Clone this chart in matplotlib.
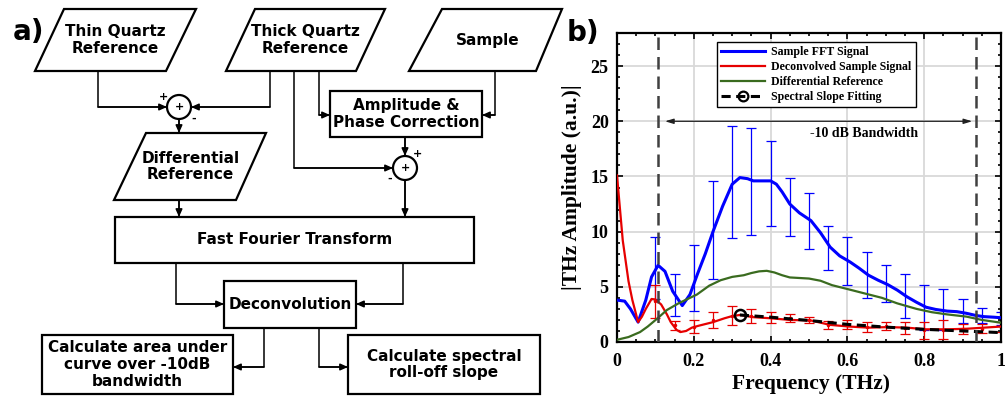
import matplotlib
matplotlib.use('Agg')
import numpy as np
import matplotlib.pyplot as plt
from matplotlib.patches import Polygon, Rectangle, Circle
from matplotlib.lines import Line2D
from matplotlib.ticker import MultipleLocator

# ---- panel b data ----
blue_x = [0, 0.02, 0.035, 0.055, 0.075, 0.09, 0.107, 0.125, 0.145, 0.17, 0.19, 0.21, 0.23,
          0.25, 0.275, 0.30, 0.32, 0.34, 0.355, 0.38, 0.40, 0.415, 0.43, 0.45, 0.475, 0.505,
          0.53, 0.555, 0.58, 0.607, 0.63, 0.655, 0.68, 0.705, 0.73, 0.755, 0.78, 0.805, 0.83,
          0.86, 0.885, 0.91, 0.935, 0.955, 0.98, 1.0]
blue_y = [3.8, 3.7, 3.0, 1.8, 3.8, 5.9, 6.95, 6.4, 4.6, 3.3, 4.3, 6.2, 8.0,
          10.0, 12.3, 14.3, 14.9, 14.8, 14.6, 14.6, 14.6, 14.3, 13.6, 12.5, 11.7, 11.0,
          9.9, 8.6, 7.8, 7.25, 6.7, 6.05, 5.6, 5.2, 4.7, 4.1, 3.6, 3.15, 2.95,
          2.8, 2.75, 2.6, 2.4, 2.3, 2.25, 2.2]

red_x = [0, 0.015, 0.03, 0.04, 0.055, 0.065, 0.075, 0.09, 0.1, 0.115, 0.13, 0.14, 0.155,
         0.165, 0.18, 0.195, 0.21, 0.25, 0.28, 0.30, 0.32, 0.355, 0.40, 0.45, 0.505, 0.53,
         0.555, 0.605, 0.655, 0.705, 0.755, 0.805, 0.86, 0.91, 0.955, 1.0]
red_y = [15.1, 9.2, 5.5, 3.8, 1.8, 2.3, 3.0, 3.9, 3.85, 3.4, 2.5, 1.8, 1.1,
         0.9, 1.0, 1.3, 1.45, 1.8, 2.15, 2.35, 2.45, 2.25, 2.15, 2.0, 1.95, 1.75,
         1.55, 1.4, 1.3, 1.35, 1.3, 1.15, 1.15, 1.2, 1.3, 1.4]

green_x = [0, 0.03, 0.06, 0.08, 0.104, 0.13, 0.16, 0.19, 0.208, 0.24, 0.27, 0.30, 0.33,
           0.35, 0.37, 0.39, 0.41, 0.43, 0.45, 0.475, 0.50, 0.53, 0.56, 0.60, 0.645, 0.69,
           0.73, 0.78, 0.82, 0.86, 0.91, 0.95, 1.0]
green_y = [0.2, 0.45, 0.9, 1.4, 2.1, 2.9, 3.5, 4.0, 4.3, 5.1, 5.6, 5.9, 6.05,
           6.25, 6.4, 6.45, 6.3, 6.05, 5.85, 5.8, 5.75, 5.55, 5.15, 4.8, 4.4, 4.0,
           3.5, 3.0, 2.7, 2.5, 2.3, 2.0, 1.75]

err_x = [0.1, 0.15, 0.2, 0.25, 0.3, 0.35, 0.4, 0.45, 0.5, 0.55, 0.6, 0.65, 0.7, 0.75,
         0.8, 0.85, 0.9, 0.95, 1.0]
blue_lo = [3.9, 2.4, 2.8, 5.7, 9.4, 9.7, 10.5, 9.6, 8.45, 6.5, 5.15, 4.0, 3.65, 2.15,
           1.1, 1.1, 1.7, 1.7, 1.5]
blue_hi = [9.5, 6.2, 8.8, 14.6, 19.6, 19.35, 18.2, 14.9, 13.5, 10.5, 9.5, 8.15, 7.0, 6.15,
           5.2, 4.8, 3.9, 3.05, 2.75]
red_lo = [2.2, 1.1, 0.8, 1.25, 1.5, 1.7, 1.7, 1.8, 1.7, 1.2, 1.15, 0.95, 1.05, 0.75,
          0.3, 0.3, 0.75, 0.8, 0.95]
red_hi = [5.2, 1.9, 1.95, 2.75, 3.25, 3.0, 2.75, 2.5, 2.3, 1.9, 1.95, 1.8, 1.8, 1.8,
          1.8, 1.95, 1.6, 1.6, 1.8]

fit_x = [0.32, 0.4, 0.5, 0.6, 0.7, 0.8, 0.9, 1.0]
fit_y = [2.45, 2.25, 1.95, 1.6, 1.35, 1.15, 1.0, 0.85]

band_lo, band_hi = 0.107, 0.935
legend_labels = ['Sample FFT Signal', 'Deconvolved Sample Signal',
                 'Differential Reference', 'Spectral Slope Fitting']

BLUE, RED, GREEN = '#0000ff', '#e60000', '#3a6b1f'
SERIF = 'Liberation Serif'
SANS = 'DejaVu Sans'

fig = plt.figure(figsize=(10.05, 4.0), dpi=100)

# ---- panel a: flowchart drawn in pixel coordinates ----
a0 = fig.add_axes([0, 0, 1, 1])
a0.set_xlim(0, 1005)
a0.set_ylim(400, 0)
a0.axis('off')

LW = 1.6
FS = 11


def label(x, y, s, fs=FS):
    a0.text(x, y, s, ha='center', va='center', fontsize=fs, fontweight='bold',
            family=SANS, linespacing=1.15)


def para(tl, tr, bl, br, yt, yb, s, ty=None):
    a0.add_patch(Polygon([(tl, yt), (tr, yt), (br, yb), (bl, yb)], closed=True,
                         fc='white', ec='black', lw=LW))
    label((tl + tr + bl + br) / 4, ty if ty else (yt + yb) / 2, s)


def box(x0, y0, x1, y1, s):
    a0.add_patch(Rectangle((x0, y0), x1 - x0, y1 - y0, fc='white', ec='black', lw=LW))
    label((x0 + x1) / 2, (y0 + y1) / 2, s)


def wire(pts):
    xs, ys = zip(*pts)
    a0.plot(xs, ys, color='black', lw=1.1)
    a0.annotate('', xy=pts[-1], xytext=pts[-2],
                arrowprops=dict(arrowstyle='-|>,head_length=0.45,head_width=0.2',
                                color='black', lw=1.1, shrinkA=0, shrinkB=0))


def junction(x, y, s1, p1, s2, p2):
    a0.add_patch(Circle((x, y), 12, fc='white', ec='black', lw=LW))
    label(x, y, '+', fs=8)
    a0.text(p1[0], p1[1], s1, ha='center', va='center', fontsize=8, fontweight='bold', family=SANS)
    a0.text(p2[0], p2[1], s2, ha='center', va='center', fontsize=8, fontweight='bold', family=SANS)


para(64, 196, 35, 166, 9, 71, 'Thin Quartz\nReference')
para(255, 385, 226, 356, 9, 71, 'Thick Quartz\nReference')
para(442, 562, 409, 536, 9, 71, 'Sample')
para(146, 266, 114, 236, 133, 200, 'Differential\nReference')
box(330, 91, 482, 137, 'Amplitude &\nPhase Correction')
box(115, 217, 474, 263, 'Fast Fourier Transform')
box(224, 281, 356, 328, 'Deconvolution')
box(42, 335, 233, 394, 'Calculate area under\ncurve over -10dB\nbandwidth')
box(348, 335, 540, 394, 'Calculate spectral\nroll-off slope')

junction(179, 107, '+', (163, 97), '-', (194, 119))
junction(405, 168, '+', (418, 154), '-', (390, 179))

wire([(98, 71), (98, 107), (167, 107)])
wire([(270, 71), (270, 107), (191, 107)])
wire([(179, 119), (179, 133)])
wire([(294, 71), (294, 168), (393, 168)])
wire([(319, 71), (319, 115), (330, 115)])
wire([(495, 71), (495, 115), (482, 115)])
wire([(405, 137), (405, 156)])
wire([(405, 180), (405, 217)])
wire([(179, 200), (179, 217)])
wire([(176, 263), (176, 304), (224, 304)])
wire([(403, 263), (403, 304), (356, 304)])
wire([(264, 328), (264, 367), (233, 367)])
wire([(319, 328), (319, 367), (348, 367)])

a0.text(28, 32, 'a)', ha='center', va='center', fontsize=20, fontweight='bold', family=SANS)
a0.text(583, 33, 'b)', ha='center', va='center', fontsize=20, fontweight='bold', family=SANS)

# ---- panel b: spectra ----
ax = fig.add_axes([617 / 1005, 58 / 400, 384 / 1005, 309 / 400])
ax.set_xlim(0, 1)
ax.set_ylim(0, 28)
ax.set_axisbelow(True)
ax.grid(True, which='major', color='#d9d9d9', lw=1.3)

blue_lo, blue_hi = np.array(blue_lo), np.array(blue_hi)
red_lo, red_hi = np.array(red_lo), np.array(red_hi)
bmid = (blue_lo + blue_hi) / 2
rmid = (red_lo + red_hi) / 2

ax.errorbar(err_x, bmid, yerr=[bmid - blue_lo, blue_hi - bmid], fmt='none',
            ecolor=BLUE, elinewidth=0.9, capsize=3.6, capthick=0.9, zorder=2)
ax.errorbar(err_x, rmid, yerr=[rmid - red_lo, red_hi - rmid], fmt='.', ms=3,
            color=RED, ecolor=RED, elinewidth=0.9, capsize=3.6, capthick=0.9, zorder=2)
ax.plot(blue_x, blue_y, color=BLUE, lw=2.2, zorder=3)
ax.plot(red_x, red_y, color=RED, lw=1.6, zorder=3)
ax.plot(green_x, green_y, color=GREEN, lw=1.6, zorder=3)
ax.plot(fit_x, fit_y, color='black', lw=2.2, ls=(0, (3, 1.8)), zorder=4)
ax.plot(fit_x[:1], fit_y[:1], 'o', mfc='none', mec='black', ms=8, mew=1.8, zorder=4)

for xv in (band_lo, band_hi):
    ax.axvline(xv, color='#404040', lw=1.8, ls=(0, (5, 2.8)), zorder=5)

ax.annotate('', xy=(band_lo + 0.018, 20), xytext=(band_hi - 0.01, 20),
            arrowprops=dict(arrowstyle='<|-|>,head_length=0.5,head_width=0.15',
                            color='#202020', lw=0.9, shrinkA=0, shrinkB=0))
ax.text(0.503, 18.85, '-10 dB Bandwidth', ha='left', va='center', fontsize=10,
        fontweight='bold', family=SERIF)

ax.set_xticks([0, 0.2, 0.4, 0.6, 0.8, 1.0])
ax.set_xticklabels(['0', '0.2', '0.4', '0.6', '0.8', '1'])
ax.set_yticks([0, 5, 10, 15, 20, 25])
ax.xaxis.set_minor_locator(MultipleLocator(0.05))
ax.yaxis.set_minor_locator(MultipleLocator(1))
ax.tick_params(which='both', direction='in', top=True, right=True, width=1.2)
ax.tick_params(which='major', length=4)
ax.tick_params(which='minor', length=2.5)
ax.tick_params(axis='x', pad=8)
ax.tick_params(axis='y', pad=6)
for t in ax.get_xticklabels() + ax.get_yticklabels():
    t.set_fontfamily(SERIF)
    t.set_fontweight('bold')
    t.set_fontsize(13)
for s in ax.spines.values():
    s.set_linewidth(1.6)

ax.set_xlabel('Frequency (THz)', fontsize=15.5, fontweight='bold', family=SERIF)
ax.set_ylabel('|THz Amplitude (a.u.)|', fontsize=15.5, fontweight='bold', family=SERIF)
ax.xaxis.set_label_coords(0.505, -0.105)
ax.yaxis.set_label_coords(-0.092, 0.5)

handles = [Line2D([], [], color=BLUE, lw=2.2),
           Line2D([], [], color=RED, lw=1.6),
           Line2D([], [], color=GREEN, lw=1.6),
           Line2D([], [], color='black', lw=2.2, ls=(0, (3, 1.8)), marker='o',
                  mfc='none', mec='black', ms=7, mew=1.6)]
leg = ax.legend(handles, legend_labels, loc='upper left', bbox_to_anchor=(0.26, 0.971),
                borderaxespad=0, fancybox=False, edgecolor='black', framealpha=1,
                handlelength=3.7, labelspacing=0.25, borderpad=0.35, handletextpad=0.5,
                prop=dict(family=SERIF, weight='bold', size=8.6))
leg.get_frame().set_linewidth(1.0)
leg.set_zorder(6)

fig.savefig('out.png', dpi=100)
